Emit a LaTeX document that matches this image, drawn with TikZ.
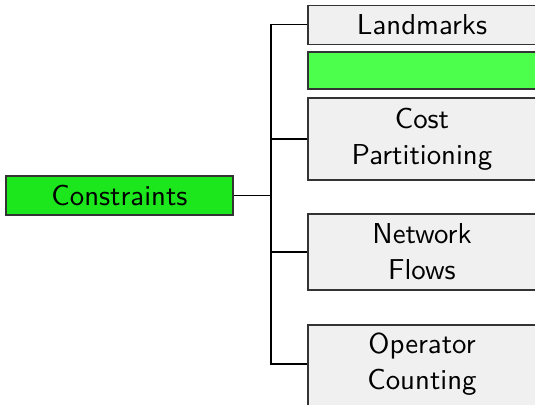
\documentclass[tikz,border=0pt]{standalone}
\begin{document}
\begin{tikzpicture}[x=0.375pt,y=-0.375pt,
  every node/.style={font=\sffamily\fontsize{10.8}{13.4}\selectfont, align=center, inner sep=0pt, draw=black!80, line width=0.45pt},
  rootbox/.style={fill=rootgreen, minimum width=85.1pt, minimum height=14.6pt},
  leafbox/.style={fill=leafgray, minimum width=87pt},
  plaintext/.style={draw=none, fill=none},
  conn/.style={draw=black, line width=0.45pt}]
\definecolor{rootgreen}{RGB}{28,230,28}
\definecolor{litegreen}{RGB}{77,255,77}
\definecolor{leafgray}{RGB}{240,240,240}
\clip (0,0) rectangle (535,405);
\useasboundingbox (0,0) rectangle (535,405);
\node[rootbox] (C) at (119.5,195.5) {Constraints};
\node[leafbox, minimum height=14.6pt] (L) at (424,24.7) {};
\node[plaintext] (Lt) at (422,24.7) {Landmarks};
\node[leafbox, fill=litegreen, minimum height=13.9pt] (G) at (424,70.5) {};
\node[leafbox, minimum height=30.75pt] (CP) at (424,139) {};
\node[plaintext] (CPt) at (422,139) {Cost\\Partitioning};
\node[leafbox, minimum height=28.5pt] (NF) at (424,252) {};
\node[plaintext] (NFt) at (422,252) {Network\\Flows};
\node[leafbox, minimum height=36pt] (OC) at (424,373) {};
\node[plaintext] (OCt) at (422,364) {Operator\\Counting};
\coordinate (s) at (271,195.5);
\draw[conn] (C.east) -- (s);
\draw[conn] (s) |- (L.west);
\draw[conn] (s) |- (CP.west);
\draw[conn] (s) |- (NF.west);
\draw[conn] (s) |- (OC.west |- OCt);
\end{tikzpicture}
\end{document}
